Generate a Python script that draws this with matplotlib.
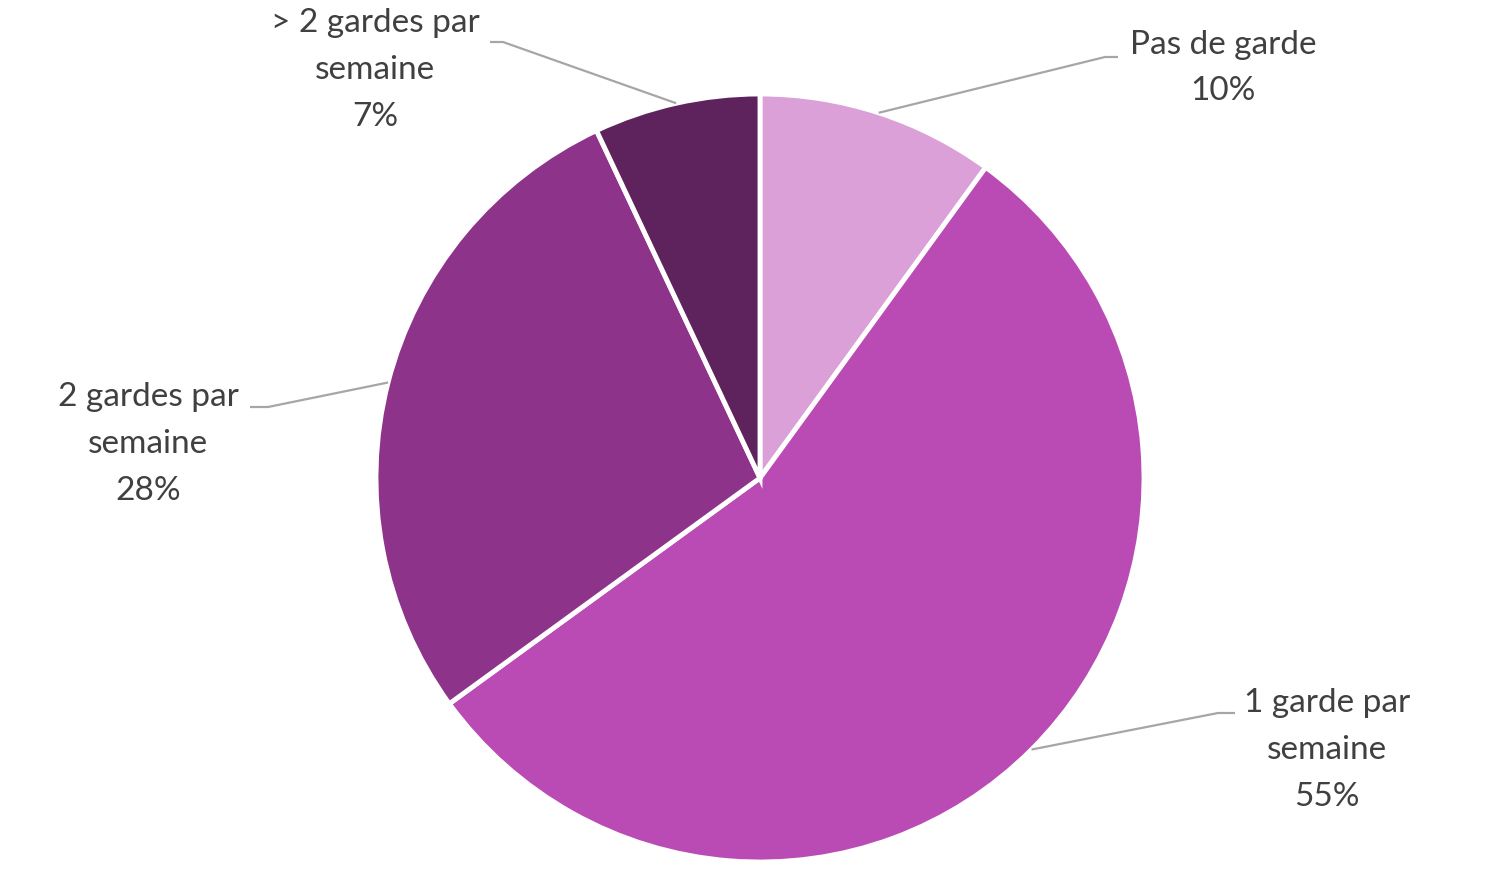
import numpy as np
import matplotlib
matplotlib.use("Agg")
import matplotlib.pyplot as plt

plt.rcParams['font.family'] = ['Lato', 'DejaVu Sans']

# data
categories = ["Pas de garde", "1 garde par\nsemaine", "2 gardes par\nsemaine", "> 2 gardes par\nsemaine"]
shares = [10, 55, 28, 7]
colors = ["#DBA0D8", "#BA4BB5", "#8E338A", "#5E235C"]

# label placement (pixel coords of text centre, elbow of leader line)
label_xy = [(1223, 68), (1327, 750), (148, 444), (375, 70)]
elbow_xy = [(1105, 57), (1218, 713), (268, 407), (503, 42)]
line_end_x = [1118, 1235, 250, 490]

W, H = 1492, 882
fig = plt.figure(figsize=(W / 100, H / 100), dpi=100)
ax = fig.add_axes([0, 0, 1, 1])

cx, cy, r = 760, 478, 384
# y axis inverted, so counterclock=True draws clockwise on screen; start at top
wedges, _ = ax.pie(shares, colors=colors, radius=r, center=(cx, cy),
                   startangle=-90, counterclock=True, frame=True,
                   wedgeprops=dict(edgecolor='white', linewidth=3.5))
ax.set_xlim(0, W)
ax.set_ylim(H, 0)
ax.set_aspect('equal')
ax.axis('off')

for w, cat, val, (tx, ty), (ex, ey), lx in zip(wedges, categories, shares, label_xy, elbow_xy, line_end_x):
    mid = np.deg2rad((w.theta1 + w.theta2) / 2)
    sx, sy = cx + r * np.cos(mid), cy + r * np.sin(mid)
    ax.plot([sx, ex, lx], [sy, ey, ey], color='#A6A6A6', lw=1.6, solid_capstyle='butt')
    ax.text(tx, ty, f"{cat}\n{val}%", ha='center', va='center', fontsize=24,
            color='#404040', linespacing=1.7)

fig.savefig("out.png", dpi=100, facecolor='white')
